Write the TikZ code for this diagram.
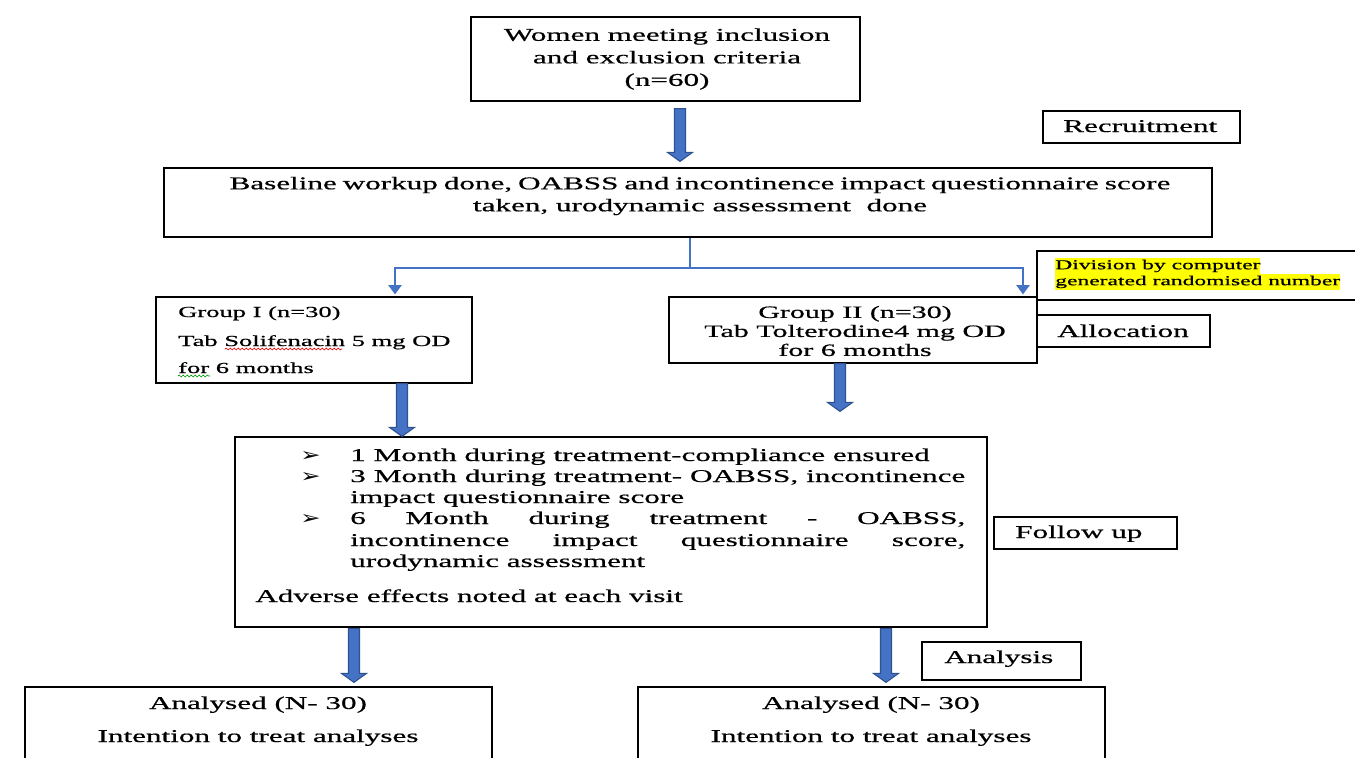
\documentclass[tikz,border=0pt]{standalone}
\usepackage{fontspec}
\setmainfont{Liberation Serif}[FakeStretch=1.73,FakeBold=0.6]
\newfontfamily\dejavu{DejaVu Sans}
\usetikzlibrary{calc,fit,arrows.meta,decorations.pathmorphing}
\definecolor{arrowblue}{HTML}{4472C4}
\definecolor{arrowedge}{HTML}{2F528F}
\definecolor{hlyellow}{HTML}{FFFF00}
\newcommand\hlt[1]{{\setlength{\fboxsep}{0pt}\colorbox{hlyellow}{\strut #1}}}
\newcommand\blockarr[2]{%
  \draw[barr] ($(#1)+(-5.5,0)$) -- ($(#2)+(-5.5,-9)$) -- ($(#2)+(-12.5,-9)$) -- (#2)
    -- ($(#2)+(12.5,-9)$) -- ($(#2)+(5.5,-9)$) -- ($(#1)+(5.5,0)$) -- cycle;}
\newcommand\bul{{\dejavu\fontsize{14}{14}\selectfont\scalebox{1.3}[1]{➢}}}
\tikzset{
  box/.style={draw=black, line width=0.9pt, inner sep=0pt},
  txt/.style={inner sep=0pt, font=\fontsize{13.5}{16.9}\selectfont},
  barr/.style={fill=arrowblue, draw=arrowedge, line width=0.8pt, line join=miter},
  thinblue/.style={draw=arrowblue, line width=1pt},
  tip/.style={-{Triangle[width=10pt,length=7pt]}},
  wavy/.style={line width=0.5pt, decorate, decoration={snake, amplitude=0.7pt, segment length=3pt}}
}
\begin{document}
\begin{tikzpicture}[x=0.75pt,y=-0.75pt]
\clip (0,0) rectangle (1355,757);
\fill[white] (0,0) rectangle (1355,757);

% boxes
\node[box, fit={(471,17)(860,101)}] (top) {};
\node[box, fit={(1043,111)(1240,143)}] (rec) {};
\node[box, fit={(164,168)(1212,237)}] (base) {};
\node[box, fit={(1037,251)(1370,300)}] (div) {};
\node[box, fit={(156,297)(472,383)}] (g1) {};
\node[box, fit={(669,297)(1037,363)}] (g2) {};
\node[box, fit={(1037,315)(1210,347)}] (alloc) {};
\node[box, fit={(235,437)(987,627)}] (fu) {};
\node[box, fit={(994,517)(1177,549)}] (fulab) {};
\node[box, fit={(922,642)(1081,680)}] (anlab) {};
\node[box, fit={(25,687)(492,775)}] (an1) {};
\node[box, fit={(638,687)(1105,775)}] (an2) {};

% texts
\node[txt, align=center] (toptxt) at (667,59) {Women meeting inclusion\\and exclusion criteria\\(n=60)};
\node[txt, anchor=base west] (rectxt) at (1063,132) {Recruitment};
\node[txt, align=center, font=\fontsize{13.5}{16.5}\selectfont] (basetxt) at (700,196)
  {\spaceskip=0.33em plus 0.1em Baseline workup done, OABSS and incontinence impact questionnaire score\\taken, urodynamic assessment\ \ done};
\node[inner sep=0pt, anchor=west, align=left, font=\fontsize{10.2}{12}\selectfont] (divtxt) at (1055,274)
  {\hlt{Division by computer}\\\hlt{generated randomised number}};
\node[txt, font=\fontsize{11.5}{13}\selectfont, anchor=base west] (g1a) at (178,317) {Group I (n=30)};
\node[txt, font=\fontsize{11.5}{13}\selectfont, anchor=base west] (g1b) at (178,346) {Tab Solifenacin 5 mg OD};
\node[txt, font=\fontsize{11.5}{13}\selectfont, anchor=base west] (g1c) at (178,373) {for 6 months};
\draw[wavy, red] (225,349) -- (342,349);
\draw[wavy, green!60!black] (178,376) -- (210,376);
\node[txt, align=center, font=\fontsize{13}{14.25}\selectfont] (g2txt) at (855,331)
  {Group II (n=30)\\Tab Tolterodine4 mg OD\\for 6 months};
\node[txt, anchor=base west] (alloctxt) at (1057,337) {Allocation};

% follow-up content
\node[inner sep=0pt, anchor=base west] (b1) at (300,461) {\bul};
\node[inner sep=0pt, anchor=base west] (b2) at (300,482) {\bul};
\node[inner sep=0pt, anchor=base west] (b3) at (300,524) {\bul};
\node[txt, anchor=base west] (l1) at (350,461) {1 Month during treatment-compliance ensured};
\node[txt, anchor=base west] (l2) at (350,482) {\makebox[461.25pt][s]{3 Month during treatment- OABSS, incontinence}};
\node[txt, anchor=base west] (l3) at (350,503) {impact questionnaire score};
\node[txt, anchor=base west] (l4) at (350,524) {\makebox[461.25pt][s]{6 Month during treatment - OABSS,}};
\node[txt, anchor=base west] (l5) at (350,546) {\makebox[461.25pt][s]{incontinence impact questionnaire score,}};
\node[txt, anchor=base west] (l6) at (350,567) {urodynamic assessment};
\node[txt, anchor=base west] (l7) at (255,602) {Adverse effects noted at each visit};
\node[txt, anchor=base west] (futxt) at (1015,538) {Follow up};
\node[txt, anchor=base west] (antxt) at (944,663) {Analysis};

\node[txt, anchor=base] (an1a) at (258,709) {Analysed (N- 30)};
\node[txt, anchor=base] (an1b) at (258,742) {Intention to treat analyses};
\node[txt, anchor=base] (an2a) at (871,709) {Analysed (N- 30)};
\node[txt, anchor=base] (an2b) at (871,742) {Intention to treat analyses};

% thin blue split connector
\coordinate (split) at (690,268);
\draw[thinblue] (690,0 |- base.south) -- (split);
\draw[thinblue, tip] (split) -| ($(395,0 |- g1.north)+(0,-2)$);
\draw[thinblue, tip] (split) -| ($(1023,0 |- g2.north)+(0,-2)$);

% block arrows
\blockarr{$(680,0 |- top.south)+(0,7)$}{$(680,0 |- base.north)+(0,-6)$}
\blockarr{402,0 |- g1.south}{402,0 |- fu.north}
\blockarr{840,0 |- g2.south}{$(840,0 |- fu.north)+(0,-25)$}
\blockarr{$(354,0 |- fu.south)+(0,1)$}{$(354,0 |- an1.north)+(0,-4)$}
\blockarr{$(886,0 |- fu.south)+(0,1)$}{$(886,0 |- an2.north)+(0,-4)$}
\end{tikzpicture}
\end{document}
